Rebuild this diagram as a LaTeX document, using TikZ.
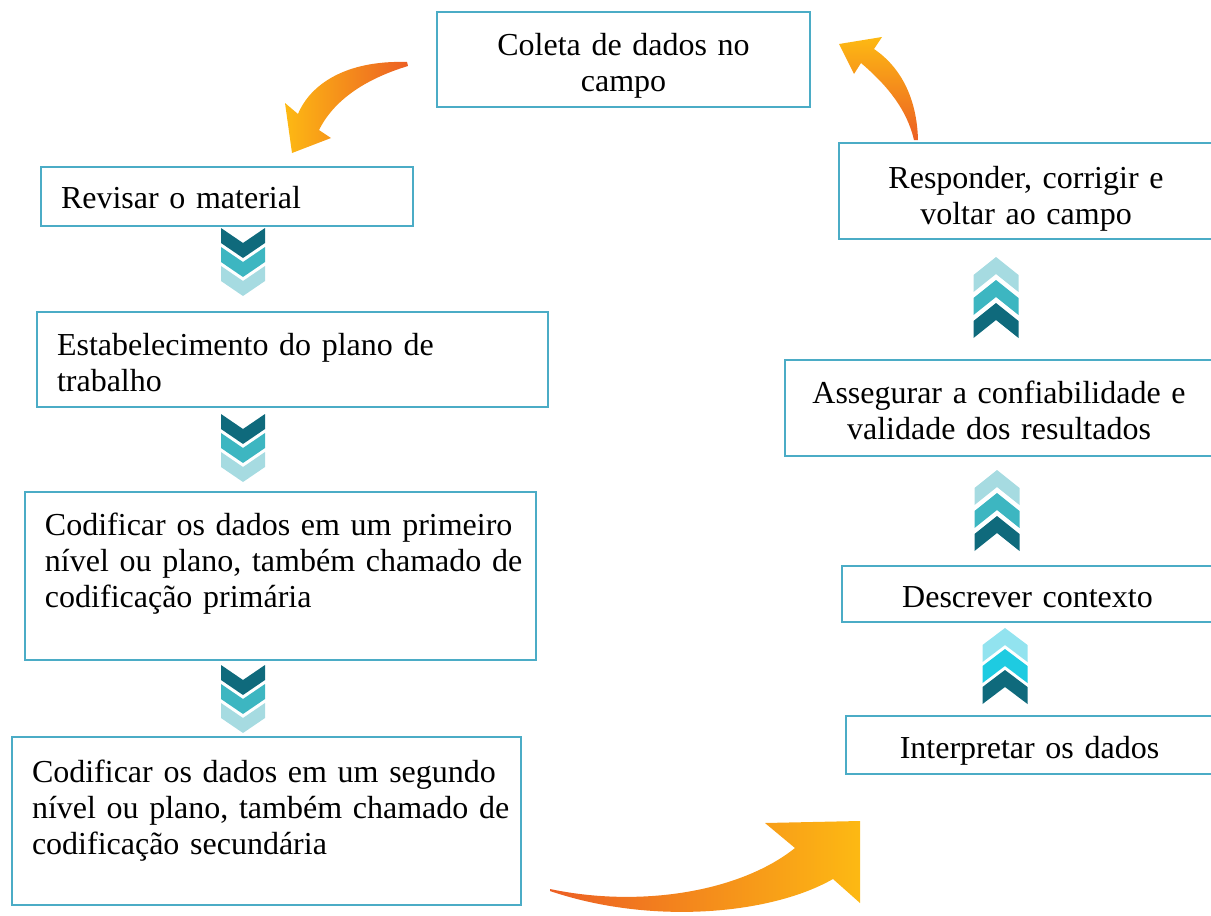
\documentclass[tikz,border=0pt]{standalone}
\usepackage{fontspec}
\setmainfont{Liberation Serif}
\usetikzlibrary{positioning}
\definecolor{boxblue}{HTML}{4BACC6}
\definecolor{chevdark}{HTML}{0F6A7C}
\definecolor{chevmid}{HTML}{3DB6C1}
\definecolor{chevlight}{HTML}{A6DBE1}
\definecolor{chevcyan}{HTML}{1ECBE1}
\definecolor{chevpale}{HTML}{92E3EF}
\definecolor{arrowred}{HTML}{EC5F24}
\definecolor{arrowyellow}{HTML}{FDB913}
\tikzset{%
    stage/.style={
      rectangle,
      draw=boxblue,
      line width=1.5pt,
      font=\fontsize{32}{36}\selectfont,
      inner xsep=20pt,
      inner ysep=0pt,
      align=center
    },
    stage left/.style={
      stage,
      align=left
    }
  }

\begin{document}
\begin{tikzpicture}[x=1pt, y=-1pt]
      \useasboundingbox (0,0) rectangle (1211,916);

      \node [stage, minimum width=373pt, text width=333pt, text height=43pt, text depth=52pt] (coleta) at (623.5,59.5) {Coleta de dados no\\campo};

      \node [stage left, minimum width=372pt, text width=332pt, text height=41pt, text depth=18pt] (revisar) at (227,196.5) {Revisar o material};
      \node [stage left, minimum width=511pt, text width=471pt, text height=43pt, text depth=52pt] (plano) at (292.5,359.5) {Estabelecimento do plano de\\trabalho};
      \node [stage left, minimum width=511pt, text width=471pt, text height=43pt, text depth=125pt] (primaria) at (280.5,576) {\mbox{Codificar os dados em um primeiro}\\\mbox{nível ou plano, também chamado de}\\codificação primária};
      \node [stage left, minimum width=509pt, text width=469pt, text height=45pt, text depth=123pt] (secundaria) at (266.5,821) {\mbox{Codificar os dados em um segundo}\\\mbox{nível ou plano, também chamado de}\\codificação secundária};

      \node [stage, minimum width=374pt, text width=334pt, text height=45pt, text depth=51pt] (responder) at (1026,191) {Responder, corrigir e\\voltar ao campo};
      \node [stage, minimum width=428pt, text width=388pt, text height=43pt, text depth=53pt] (assegurar) at (999,408) {Assegurar a confiabilidade e\\validade dos resultados};
      \node [stage, minimum width=371pt, text width=331pt, text height=41pt, text depth=15pt] (descrever) at (1027.5,594) {Descrever contexto};
      \node [stage, minimum width=367pt, text width=327pt, text height=42pt, text depth=16pt] (interpretar) at (1029.5,745) {Interpretar os dados};

      % chevrons going down
      \foreach \y in {228,414,665}
        \foreach \c [count=\i from 0] in {chevdark,chevmid,chevlight}
          \fill [\c, shift={(243,\y+19*\i)}] (-22,0) -- (0,15) -- (22,0) -- (22,15) -- (0,30) -- (-22,15) -- cycle;

      % chevrons going up
      \foreach \x/\y in {996/257,997/470}
        \foreach \c [count=\i from 0] in {chevlight,chevmid,chevdark}
          \fill [\c, shift={(\x,\y+23*\i)}] (-22.5,18) -- (0,0) -- (22.5,18) -- (22.5,35) -- (0,17) -- (-22.5,35) -- cycle;
      \foreach \c [count=\i from 0] in {chevpale,chevcyan,chevdark}
        \fill [\c, shift={(1005,628+21*\i)}] (-22.5,17) -- (0,0) -- (22.5,17) -- (22.5,34) -- (0,17) -- (-22.5,34) -- cycle;

      % curved arrows
      \shade [left color=arrowyellow, right color=arrowred] (407,62) .. controls (345,60) and (310,85) .. (298,114) -- (285,103) -- (292,153) -- (331,138) -- (319,130) .. controls (333,102) and (362,80) .. (408,66) -- cycle;
      \shade [top color=arrowyellow, bottom color=arrowred] (918,140) .. controls (917,100) and (902,68) .. (874,49) -- (882,37) -- (839,44) -- (854,74) -- (861,63) .. controls (888,86) and (907,110) .. (914,140) -- cycle;
      \shade [left color=arrowred, right color=arrowyellow] (550,889) .. controls (640,908) and (740,892) .. (795,848) -- (765,823) -- (860,821) -- (860,903) -- (833,879) .. controls (770,915) and (650,925) .. (550,891) -- cycle;
\end{tikzpicture}
\end{document}
